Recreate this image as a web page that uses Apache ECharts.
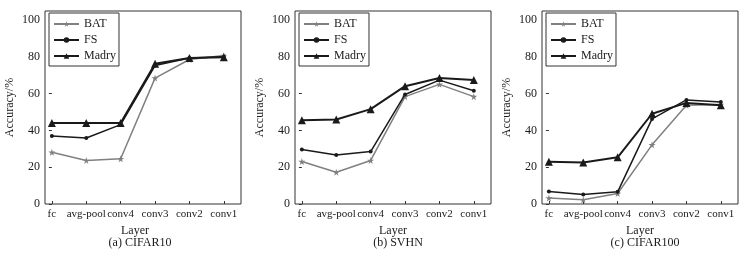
<!DOCTYPE html>
<html>
<head>
<meta charset="utf-8">
<script src="https://cdn.jsdelivr.net/npm/echarts@6/dist/echarts.min.js"></script>
<style>
  html, body { margin: 0; padding: 0; background: #fff; }
  #chart { width: 748px; height: 255px; }
</style>
</head>
<body>
<div id="chart"></div>
<script>
// 三个数据集的逐层准确率：BAT / FS / Madry

const LAYERS = ['fc', 'avg-pool', 'conv4', 'conv3', 'conv2', 'conv1'];
const Y_TICKS = [0, 20, 40, 60, 80, 100];
const SERIES_NAMES = ['BAT', 'FS', 'Madry'];
const CAPTIONS = ['(a) CIFAR10', '(b) SVHN', '(c) CIFAR100'];

const CIFAR10_BAT   = [28.1, 23.7, 24.6, 68.5, 78.6, 80.8];
const CIFAR10_FS    = [37.0, 35.9, 43.2, 75.3, 79.4, 80.1];
const CIFAR10_MADRY = [44.1, 44.0, 44.0, 76.3, 79.4, 79.9];

const SVHN_BAT   = [23.1, 17.3, 23.7, 58.4, 65.1, 58.4];
const SVHN_FS    = [29.7, 26.7, 28.5, 59.6, 67.4, 61.6];
const SVHN_MADRY = [45.6, 46.0, 51.6, 64.1, 68.5, 67.4];

const CIFAR100_BAT   = [3.2, 2.3, 5.7, 32.2, 53.7, 54.1];
const CIFAR100_FS    = [6.8, 5.2, 6.6, 46.3, 56.6, 55.5];
const CIFAR100_MADRY = [23.0, 22.6, 25.4, 49.1, 55.0, 53.7];

const PANELS = [
  [CIFAR10_BAT, CIFAR10_FS, CIFAR10_MADRY],
  [SVHN_BAT, SVHN_FS, SVHN_MADRY],
  [CIFAR100_BAT, CIFAR100_FS, CIFAR100_MADRY]
];

/* ================================================================
   布局 / 样式
   ================================================================ */
const FONT = '"Liberation Serif", "Times New Roman", serif';
const INK = '#1a1a1a';
const GRID_LEFT = [45, 295, 542];
const GRID_W = 196;
const GRID_TOP = 11;
const GRID_H = 193;
const STAR = 'path://M50,0 L61,35 L98,35 L68,57 L79,91 L50,70 L21,91 L32,57 L2,35 L39,35 Z';

const STYLES = {
  BAT:   { color: '#808080', symbol: STAR, symbolSize: 7, width: 1.5 },
  FS:    { color: INK, symbol: 'circle', symbolSize: 4, width: 1.5 },
  Madry: { color: INK, symbol: 'triangle', symbolSize: 8, width: 2 }
};

const chart = echarts.init(document.getElementById('chart'), null, { renderer: 'canvas' });

const grid = [], xAxis = [], yAxis = [], series = [], legend = [], title = [];

PANELS.forEach((panel, p) => {
  grid.push({
    left: GRID_LEFT[p], top: GRID_TOP, width: GRID_W, height: GRID_H,
    show: true, borderColor: '#333', borderWidth: 1, backgroundColor: 'transparent'
  });

  xAxis.push({
    gridIndex: p,
    type: 'value',
    min: -0.2,
    max: 5.5,
    name: 'Layer',
    nameLocation: 'middle',
    nameGap: 15,
    nameTextStyle: { fontFamily: FONT, fontSize: 12, color: INK, padding: p === 0 ? [0, 16, 0, 0] : 0 },
    axisLine: { show: false },
    axisTick: { show: true, inside: true, length: 3, customValues: LAYERS.map((_, i) => i), lineStyle: { color: '#333' } },
    axisLabel: {
      customValues: LAYERS.map((_, i) => i),
      formatter: (v) => LAYERS[Math.round(v)],
      fontFamily: FONT, fontSize: 11, color: INK, margin: 5
    },
    splitLine: { show: false }
  });

  yAxis.push({
    gridIndex: p,
    type: 'value',
    min: 0,
    max: 105,
    name: 'Accuracy/%',
    nameLocation: 'middle',
    nameGap: 29,
    nameTextStyle: { fontFamily: FONT, fontSize: 12, color: INK },
    axisLine: { show: false },
    axisTick: { show: true, inside: false, length: 3, customValues: Y_TICKS, lineStyle: { color: '#333' } },
    axisLabel: { customValues: Y_TICKS, fontFamily: FONT, fontSize: 12, color: INK, margin: 5 },
    splitLine: { show: false }
  });

  panel.forEach((values, s) => {
    const name = SERIES_NAMES[s];
    const st = STYLES[name];
    series.push({
      name,
      type: 'line',
      xAxisIndex: p,
      yAxisIndex: p,
      data: values.map((v, i) => [i, v]),
      symbol: st.symbol,
      symbolSize: st.symbolSize,
      showAllSymbol: true,
      color: st.color,
      itemStyle: { color: st.color },
      lineStyle: { color: st.color, width: st.width },
      emphasis: { disabled: true },
      z: 2 + s
    });
  });

  legend.push({
    orient: 'vertical',
    left: GRID_LEFT[p] + 4,
    top: 13,
    data: SERIES_NAMES,
    itemWidth: 25,
    itemHeight: 7,
    itemGap: 4,
    padding: [5, 3, 4, 4],
    borderColor: '#333',
    borderWidth: 1,
    backgroundColor: '#fff',
    textStyle: { fontFamily: FONT, fontSize: 12, color: INK }
  });

  title.push({
    text: CAPTIONS[p],
    left: p === 0 ? 135 : GRID_LEFT[p] + GRID_W / 2,
    textAlign: 'center',
    top: 232,
    textStyle: { fontFamily: FONT, fontSize: 12, fontWeight: 'normal', color: INK }
  });
});

chart.setOption({
  animation: false,
  backgroundColor: '#fff',
  title,
  grid,
  xAxis,
  yAxis,
  legend,
  series
});
</script>
</body>
</html>
